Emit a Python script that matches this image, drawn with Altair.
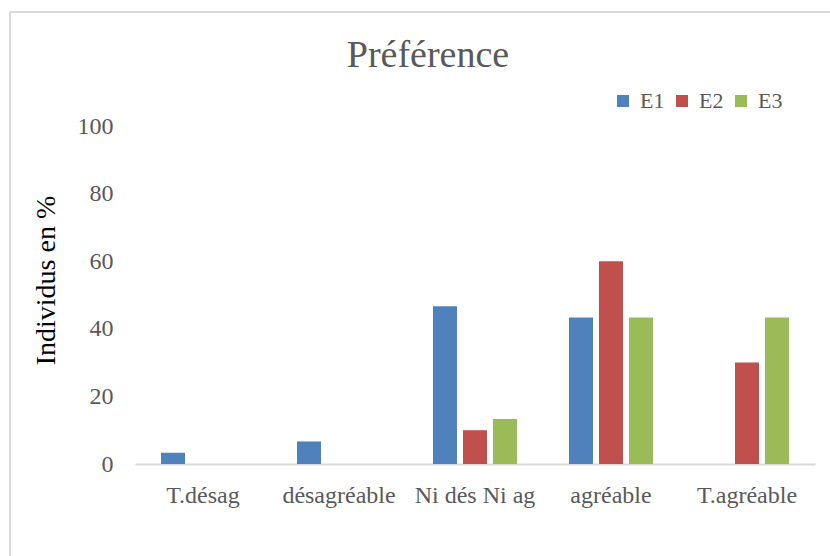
import altair as alt
import pandas as pd

# Survey answers, share of individuals (%) per session
categories = ["T.désag", "désagréable", "Ni dés Ni ag", "agréable", "T.agréable"]
series = ["E1", "E2", "E3"]
e1 = [3.33, 6.67, 46.67, 43.33, 0]
e2 = [0, 0, 10, 60, 30]
e3 = [0, 0, 13.33, 43.33, 43.33]
colors = ["#4F81BD", "#C0504D", "#9BBB59"]

rows = []
for name, vals in zip(series, [e1, e2, e3]):
    for cat, v in zip(categories, vals):
        rows.append({"cat": cat, "serie": name, "val": v})
df = pd.DataFrame(rows)

FONT = "Liberation Serif"
GREY = "#595959"

bars = alt.Chart(df).mark_bar().encode(
    x=alt.X(
        "cat:N",
        sort=categories,
        title=None,
        scale=alt.Scale(paddingInner=0.338, paddingOuter=0.169),
        axis=alt.Axis(
            labelAngle=0,
            labelFont=FONT,
            labelFontSize=24,
            labelColor=GREY,
            labelBaseline="top",
            labelPadding=19,
            ticks=False,
            tickSize=0,
            domainColor="#d9d9d9",
            domainWidth=2,
        ),
    ),
    xOffset=alt.XOffset(
        "serie:N",
        sort=series,
        scale=alt.Scale(paddingInner=0.2, paddingOuter=0.1),
    ),
    y=alt.Y(
        "val:Q",
        scale=alt.Scale(domain=[0, 100], nice=False),
        axis=alt.Axis(
            values=[0, 20, 40, 60, 80, 100],
            title="Individus en %",
            titleFont=FONT,
            titleFontSize=28,
            titleFontWeight="normal",
            titleColor="#000000",
            titleX=-89,
            titleY=154,
            titleBaseline="middle",
            titleAngle=-90,
            labelFont=FONT,
            labelFontSize=24,
            labelColor=GREY,
            labelPadding=22,
            ticks=False,
            tickSize=0,
            domain=False,
            grid=False,
        ),
    ),
    color=alt.Color(
        "serie:N",
        sort=series,
        scale=alt.Scale(domain=series, range=colors),
        legend=alt.Legend(
            title=None,
            orient="none",
            direction="horizontal",
            legendX=477,
            legendY=-36,
            symbolType="square",
            symbolSize=144,
            symbolStrokeWidth=0,
            labelFont=FONT,
            labelFontSize=22,
            labelColor=GREY,
            labelOffset=6,
            columnPadding=6,
            padding=0,
        ),
    ),
)

# Light grey border around the chart
frame_df = pd.DataFrame({"k": [0]})
frame_top = alt.Chart(frame_df).mark_rule(color="#d9d9d9", strokeWidth=2).encode(
    x=alt.value(-125), x2=alt.value(700), y=alt.value(-114)
)
frame_left = alt.Chart(frame_df).mark_rule(color="#d9d9d9", strokeWidth=2).encode(
    x=alt.value(-125), y=alt.value(-114), y2=alt.value(440)
)

chart = (
    alt.layer(frame_top, frame_left, bars)
    .properties(
        width=680,
        height=338,
        autosize=alt.AutoSizeParams(type="none"),
        padding={"left": 135, "top": 126, "right": 15, "bottom": 92},
        title=alt.TitleParams(
            "Préférence",
            font=FONT,
            fontSize=38,
            fontWeight="normal",
            color=GREY,
            anchor="middle",
            frame="group",
            dx=-47,
            dy=68,
        ),
    )
    .configure(background="white", view=alt.ViewConfig(stroke=None))
)

chart.save("out.html", embed_options={"renderer": "svg", "actions": False})
